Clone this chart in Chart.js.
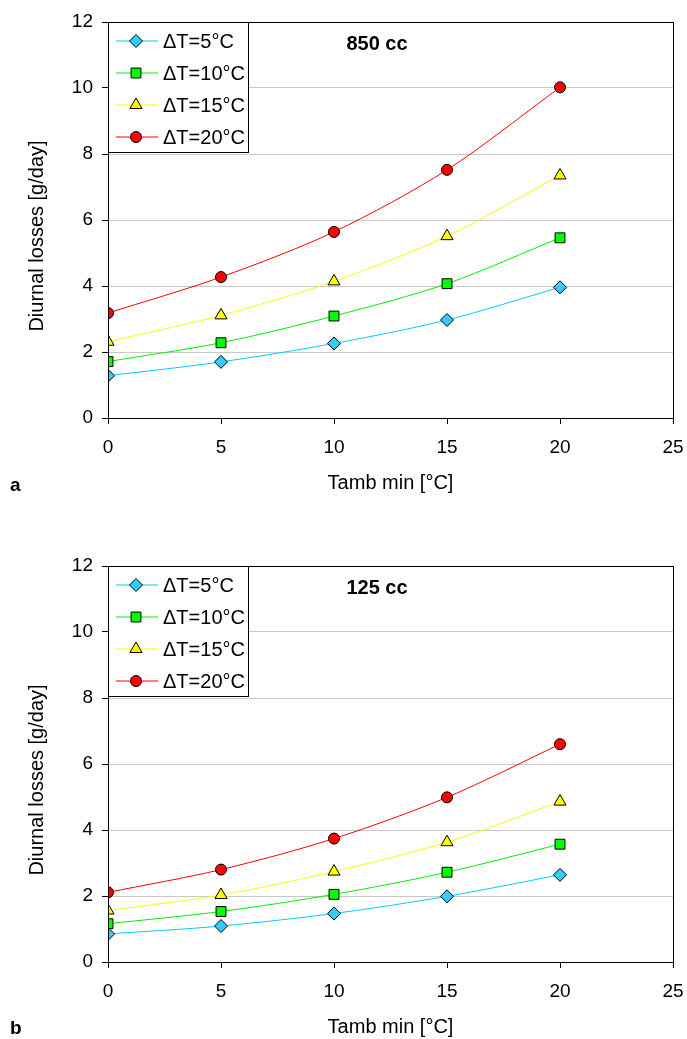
<!DOCTYPE html>
<html>
<head>
<meta charset="utf-8">
<script src="https://cdn.jsdelivr.net/npm/chart.js@4"></script>
<style>
  body { margin: 0; background: #fff; }
  canvas { display: block; }
</style>
</head>
<body>
<canvas id="chartA" width="687" height="520"></canvas>
<canvas id="chartB" width="687" height="519"></canvas>
<script>
// x values (Tamb min, °C)
const tambMin = [0, 5, 10, 15, 20];
const seriesLabels = ["ΔT=5°C", "ΔT=10°C", "ΔT=15°C", "ΔT=20°C"];

// panel a - 850 cc, diurnal losses g/day
const cc850_dT5  = [1.28, 1.70, 2.26, 2.97, 3.96];
const cc850_dT10 = [1.71, 2.28, 3.09, 4.07, 5.46];
const cc850_dT15 = [2.31, 3.11, 4.14, 5.51, 7.35];
const cc850_dT20 = [3.18, 4.27, 5.64, 7.52, 10.02];

// panel b - 125 cc
const cc125_dT5  = [0.85, 1.09, 1.47, 1.99, 2.64];
const cc125_dT10 = [1.16, 1.53, 2.05, 2.72, 3.57];
const cc125_dT15 = [1.56, 2.03, 2.74, 3.63, 4.86];
const cc125_dT20 = [2.11, 2.80, 3.74, 4.99, 6.60];

const yTicks = [0, 2, 4, 6, 8, 10, 12];
const xTicks = [0, 5, 10, 15, 20, 25];

const lineColors = ["#00ccff", "#00f000", "#ffff00", "#ff0000"];
const markerFill = ["#33ccff", "#00ff00", "#ffff00", "#ff0000"];
const markerStyle = ["rectRot", "rect", "triangle", "circle"];
const markerRadius = [6.5, 7, 7, 5.5];

const FONT = "'Liberation Sans', Arial, sans-serif";
Chart.defaults.font.family = FONT;
Chart.defaults.color = "#000";

function makeSets(series) {
    return series.map((vals, i) => ({
        label: seriesLabels[i],
        data: tambMin.map((t, j) => ({ x: t, y: vals[j] })),
        borderColor: lineColors[i],
        borderWidth: 1,
        backgroundColor: markerFill[i],
        pointStyle: markerStyle[i],
        pointRadius: markerRadius[i],
        pointBorderColor: "#000",
        pointBorderWidth: 1,
        tension: 0.3,
        fill: false
    }));
}

function drawMarker(ctx, style, r, x, y) {
    if (Chart.helpers && Chart.helpers.drawPoint) {
        Chart.helpers.drawPoint(ctx, { pointStyle: style, radius: r, rotation: 0, borderWidth: 1 }, x, y);
        return;
    }
    ctx.beginPath();
    ctx.arc(x, y, r, 0, Math.PI * 2);
    ctx.fill();
    ctx.stroke();
}

// frame, inner legend, y title, title text and panel letter
const extras = {
    id: "extras",
    afterDraw(chart, args, opts) {
        const ctx = chart.ctx;
        const a = chart.chartArea;
        ctx.save();
        ctx.strokeStyle = "#000";
        ctx.lineWidth = 1;
        ctx.strokeRect(a.left + 0.5, a.top + 0.5, a.right - a.left, a.bottom - a.top);

        // legend box
        ctx.fillStyle = "#fff";
        ctx.fillRect(a.left + 0.5, a.top + 0.5, 140, 130);
        ctx.strokeRect(a.left + 0.5, a.top + 0.5, 140, 130);
        ctx.font = "20px " + FONT;
        ctx.textBaseline = "middle";
        chart.data.datasets.forEach((ds, i) => {
            const y = a.top + 19 + i * 32;
            ctx.strokeStyle = ds.borderColor;
            ctx.beginPath();
            ctx.moveTo(a.left + 8, y);
            ctx.lineTo(a.left + 50, y);
            ctx.stroke();
            ctx.fillStyle = ds.backgroundColor;
            ctx.strokeStyle = "#000";
            drawMarker(ctx, ds.pointStyle, ds.pointRadius, a.left + 28, y);
            ctx.fillStyle = "#000";
            ctx.textAlign = "left";
            ctx.fillText(ds.label, a.left + 55, y + 1);
        });

        ctx.font = "bold 20px " + FONT;
        ctx.textAlign = "center";
        ctx.fillText(opts.title, a.left + 269, a.top + 22);

        // y axis title, sits a bit below the plot centre as in the source
        ctx.font = "20px " + FONT;
        ctx.save();
        ctx.translate(37, (a.top + a.bottom) / 2 + 16);
        ctx.rotate(-Math.PI / 2);
        ctx.fillText("Diurnal losses [g/day]", 0, 0);
        ctx.restore();

        ctx.font = "bold 19px " + FONT;
        ctx.textAlign = "left";
        ctx.fillText(opts.letter, 10, opts.letterY);
        ctx.restore();
    }
};

function makeChart(id, series, title, letter, letterY, pad) {
    return new Chart(id, {
        type: "line",
        data: { datasets: makeSets(series) },
        plugins: [extras],
        options: {
            responsive: false,
            animation: false,
            layout: { padding: pad },
            plugins: {
                legend: { display: false },
                tooltip: { enabled: false },
                extras: { title: title, letter: letter, letterY: letterY }
            },
            scales: {
                x: {
                    type: "linear",
                    min: 0,
                    max: 25,
                    afterBuildTicks: s => { s.ticks = xTicks.map(v => ({ value: v })); },
                    afterFit: s => { s.height = 77; s.paddingLeft = 0; s.paddingRight = 0; },
                    ticks: { font: { size: 19 }, color: "#000", padding: 12 },
                    grid: { drawOnChartArea: false, tickLength: 6, tickColor: "#000" },
                    border: { color: "#000", width: 1 },
                    title: { display: true, text: "Tamb min [°C]", font: { size: 20 }, color: "#000", padding: 0 }
                },
                y: {
                    min: 0,
                    max: 12,
                    afterBuildTicks: s => { s.ticks = yTicks.map(v => ({ value: v })); },
                    afterFit: s => { s.width = 108; s.paddingTop = 0; s.paddingBottom = 0; },
                    ticks: { font: { size: 19 }, color: "#000", padding: 9 },
                    grid: { color: "#c8c8c8", tickLength: 6, tickColor: "#000" },
                    border: { color: "#000", width: 1 }
                }
            }
        }
    });
}

makeChart("chartA", [cc850_dT5, cc850_dT10, cc850_dT15, cc850_dT20], "850 cc", "a", 486,
    { left: 0, top: 22, right: 14, bottom: 25 });
makeChart("chartB", [cc125_dT5, cc125_dT10, cc125_dT15, cc125_dT20], "125 cc", "b", 509,
    { left: 0, top: 46, right: 14, bottom: 0 });
</script>
</body>
</html>
